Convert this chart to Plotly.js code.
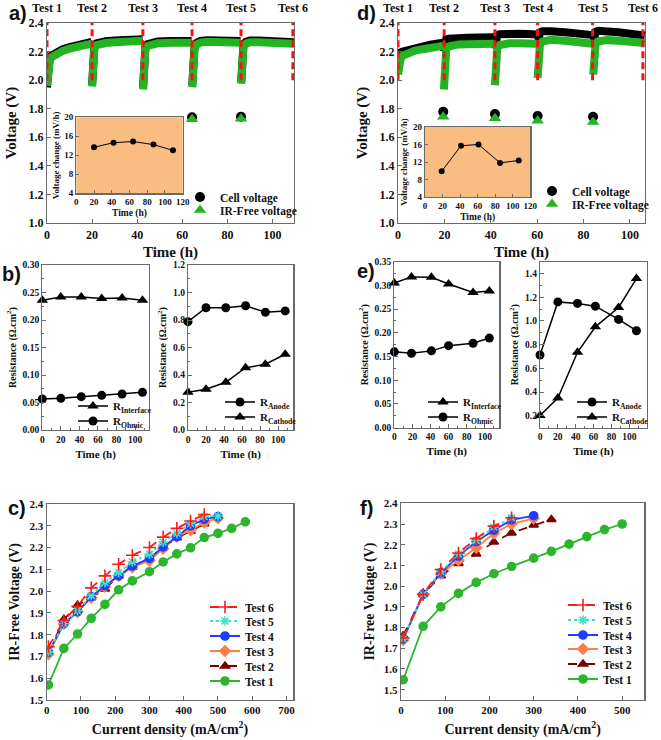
<!DOCTYPE html>
<html><head><meta charset="utf-8">
<script src="https://cdn.plot.ly/plotly-3.0.1.min.js"></script>
<style>html,body{margin:0;padding:0;background:#fff}#chart{width:661px;height:740px}</style>
</head><body><div id="chart"></div>
<script>
// ---------------- DATA ----------------
const testLabels = ['Test 1','Test 2','Test 3','Test 4','Test 5','Test 6'];
const aTestTimes = [0,20,42.5,64.3,86,109];
const dTestTimes = [0,19.9,41.8,60.2,83.9,105.6];
const dashLow = 2.0, dashHigh = 2.4;

// panel a: long-term voltage traces (segments separated by null)
const aTime = [0,0.2,0.6,1.2,2,4,7,10,13,16,19.8,null,
  20,20.15,20.5,21,22,23.5,26,30,35,40,42.4,null,
  42.6,42.75,43.1,43.6,44.6,46,49,55,60,64.1,null,
  64.4,64.55,64.9,65.4,66.4,68,71,76,81,85.8,null,
  86.1,86.25,86.6,87.1,88.1,90,94,100,105,109.4];
const aIRFree = [1.96,2.06,2.11,2.14,2.16,2.185,2.205,2.22,2.232,2.243,2.255,null,
  1.955,2.12,2.19,2.225,2.245,2.255,2.26,2.265,2.27,2.273,2.275,null,
  1.935,2.11,2.18,2.215,2.24,2.25,2.258,2.262,2.262,2.262,null,
  1.95,2.12,2.19,2.225,2.25,2.263,2.268,2.267,2.264,2.262,null,
  1.975,2.13,2.2,2.235,2.255,2.265,2.266,2.262,2.258,2.254];
const aCell = [1.95,2.075,2.122,2.152,2.172,2.197,2.217,2.232,2.244,2.255,2.267,null,
  1.97,2.135,2.202,2.237,2.257,2.267,2.272,2.277,2.282,2.285,2.287,null,
  1.95,2.122,2.192,2.227,2.252,2.262,2.27,2.274,2.274,2.274,null,
  1.965,2.132,2.202,2.237,2.262,2.275,2.28,2.279,2.276,2.274,null,
  1.99,2.142,2.212,2.247,2.267,2.277,2.278,2.274,2.27,2.266];
const aPointT = [64.3,86];
const aCellPt = [1.74,1.744];
const aIRPt = [1.727,1.73];

// panel d
const dTime = [0,0.2,0.6,1.2,2,4,7,10,14,19.4,null,
  19.8,19.95,20.3,20.8,21.8,23.3,26,30,35,41.5,null,
  41.8,41.95,42.3,42.8,43.8,45.3,48,52,56,60,null,
  60.2,60.35,60.7,61.2,62.2,63.7,66,72,78,84,null,
  84.2,84.35,84.7,85.2,86.2,87.7,90,95,100,106.4];
const dIRFree = [2.04,2.1,2.135,2.155,2.17,2.19,2.205,2.215,2.228,2.24,null,
  1.935,2.1,2.18,2.215,2.235,2.245,2.25,2.252,2.253,2.255,null,
  1.965,2.12,2.19,2.225,2.245,2.255,2.258,2.258,2.257,2.255,null,
  2.015,2.15,2.22,2.25,2.27,2.28,2.282,2.275,2.265,2.255,null,
  2.04,2.17,2.23,2.255,2.27,2.278,2.28,2.275,2.268,2.26];
const dCell = [2.165,2.18,2.19,2.195,2.2,2.21,2.225,2.235,2.248,2.262,null,
  2.2,2.24,2.27,2.285,2.29,2.293,2.295,2.297,2.298,2.3,null,
  2.22,2.27,2.3,2.315,2.322,2.325,2.325,2.325,2.323,2.32,null,
  2.24,2.29,2.32,2.335,2.342,2.345,2.343,2.335,2.325,2.315,null,
  2.25,2.3,2.325,2.338,2.345,2.345,2.343,2.335,2.325,2.312];
const dPointT = [19.5,41.8,60.2,84.1];
const dCellPt = [1.779,1.763,1.749,1.744];
const dIRPt = [1.744,1.733,1.716,1.707];

// insets: voltage change rate
const aInsetT = [20,42,64,87,109];
const aInsetV = [13.7,14.65,14.9,14.25,13.05];
const dInsetT = [19,41,61,85.5,106.8];
const dInsetV = [9.87,15.7,16.02,11.8,12.35];

// panel b
const bTime = [0,20,42,64,86,108];
const bInterface = [0.236,0.242,0.242,0.239,0.240,0.236];
const bOhmic = [0.0564,0.0576,0.0606,0.063,0.0655,0.0685];
const bTime2 = [0,20,42,64,86,108];
const bAnode = [0.788,0.889,0.889,0.904,0.856,0.866];
const bCathode = [0.274,0.296,0.347,0.453,0.478,0.551];

// panel e
const eTime = [0,19,41,60,87,105];
const eInterface = [0.305,0.318,0.317,0.303,0.285,0.288];
const eOhmic = [0.160,0.157,0.162,0.173,0.178,0.189];
const eTime2 = [0,20,42,62,88,108];
const eAnode = [0.713,1.161,1.148,1.125,1.013,0.918];
const eCathode = [0.203,0.35,0.736,0.951,1.114,1.358];

// panel c: polarization curves
const cJ = [5,50,90,130,170,210,250,300,340,380,420,460,500,540,580];
const cTest1 = [1.569,1.737,1.803,1.875,1.939,2.006,2.047,2.089,2.134,2.171,2.199,2.246,2.265,2.288,2.318];
const cTest2 = [1.715,1.87,1.935,1.97,2.01,2.07,2.11,2.15,2.2,2.245,2.275,2.31];
const cTest3 = [1.71,1.85,1.905,1.97,2.02,2.07,2.11,2.14,2.195,2.25,2.28,2.315,2.335];
const cTest4 = [1.72,1.85,1.905,1.975,2.025,2.07,2.115,2.15,2.203,2.25,2.3,2.33,2.342];
const cTest5 = [1.72,1.85,1.91,1.98,2.04,2.085,2.135,2.17,2.225,2.265,2.31,2.342,2.345];
const cTest6 = [1.745,1.865,1.93,2.015,2.07,2.123,2.165,2.2,2.248,2.288,2.322,2.352];

// panel f
const fJ = [5,50,90,130,170,210,250,300,340,380,420,460,500];
const fTest1 = [1.548,1.806,1.9,1.965,2.018,2.06,2.095,2.135,2.168,2.203,2.239,2.273,2.3];
const fTest2 = [1.76,1.96,2.05,2.11,2.155,2.213,2.257,2.295,2.322];
const fTest3 = [1.74,1.96,2.06,2.125,2.185,2.255,2.3,2.327];
const fTest4 = [1.745,1.96,2.065,2.145,2.215,2.27,2.32,2.34];
const fTest5 = [1.745,1.96,2.07,2.155,2.22,2.285,2.33];
const fTest6 = [1.75,1.96,2.08,2.16,2.23,2.29,2.33];

// ---------------- STYLE / LAYOUT ----------------
const W = 661, H = 740;
const SERIF = 'Liberation Serif, Times New Roman, serif';
const SANS = 'Liberation Sans, Arial, sans-serif';
const GREEN = '#22b422';
const fx = p => p / W;
const fy = p => 1 - p / H;
const dom = (a, b) => [fx(a), fx(b)];
const domY = (top, bot) => [fy(bot), fy(top)];

function ax(o) {
  const base = {showline:true, mirror:true, linecolor:'#6a6a6a', linewidth:1.2,
    ticks:'inside', ticklen:4, tickcolor:'#6a6a6a', tickwidth:1,
    showgrid:false, zeroline:false, fixedrange:true,
    tickfont:{family:SERIF, size:12, weight:700, color:'#111'}};
  return Object.assign(base, o);
}
function ttl(text, size, standoff) {
  return {text:text, font:{family:SERIF, size:size, weight:700, color:'#111'}, standoff:standoff};
}
const smallTick = {family:SERIF, size:9, weight:700, color:'#111'};
const resTick = {family:SERIF, size:9.5, weight:700, color:'#111'};
const polTick = {family:SERIF, size:11, weight:700, color:'#111'};
const layout = {
  width:W, height:H, margin:{l:0,r:0,t:0,b:0},
  paper_bgcolor:'#fff', plot_bgcolor:'rgba(0,0,0,0)',
  font:{family:SERIF, weight:700, color:'#111'},
  showlegend:true,
  // a
  xaxis: ax({domain:dom(47,294), anchor:'y', range:[0,109.5], dtick:20, title:ttl('Time (h)',15,6)}),
  yaxis: ax({domain:domY(23,223), anchor:'x', range:[1.0,2.4], dtick:0.2, tickformat:'.1f', title:ttl('Voltage (V)',15,8)}),
  // inset a
  xaxis2: ax({domain:dom(76.3,182.7), anchor:'y2', range:[0,120], dtick:20, ticklen:3, tickfont:smallTick, title:ttl('Time (h)',9.5,3)}),
  yaxis2: ax({domain:domY(117.3,193.3), anchor:'x2', range:[4,20], dtick:4, ticklen:3, tickfont:smallTick, title:ttl('Voltage change (mV/h)',9,3)}),
  // d
  xaxis3: ax({domain:dom(398,645), anchor:'y3', range:[0,106.5], dtick:20, title:ttl('Time (h)',15,6)}),
  yaxis3: ax({domain:domY(23,223), anchor:'x3', range:[1.0,2.4], dtick:0.2, tickformat:'.1f', title:ttl('Voltage (V)',15,8)}),
  // inset d
  xaxis4: ax({domain:dom(425,530.3), anchor:'y4', range:[0,120], dtick:20, ticklen:3, tickfont:smallTick, title:ttl('Time (h)',9.5,3)}),
  yaxis4: ax({domain:domY(127,197), anchor:'x4', range:[4,20], dtick:4, ticklen:3, tickfont:smallTick, title:ttl('Voltage change (mV/h)',9,3)}),
  // b left
  xaxis5: ax({domain:dom(42.3,149), anchor:'y5', range:[0,115], dtick:20, minor:{ticks:'inside',ticklen:2,dtick:10}, tickfont:resTick, title:ttl('Time (h)',11,6)}),
  yaxis5: ax({domain:domY(265,430), anchor:'x5', range:[0,0.3], dtick:0.05, tickformat:'.2f', minor:{ticks:'inside',ticklen:2,dtick:0.025}, tickfont:resTick, title:ttl('Resistance (Ω.cm<sup>2</sup>)',10,4)}),
  // b right
  xaxis6: ax({domain:dom(188,293.3), anchor:'y6', range:[0,117], dtick:20, minor:{ticks:'inside',ticklen:2,dtick:10}, tickfont:resTick, title:ttl('Time (h)',11,6)}),
  yaxis6: ax({domain:domY(265,430), anchor:'x6', range:[0,1.2], dtick:0.2, tickformat:'.1f', minor:{ticks:'inside',ticklen:2,dtick:0.1}, tickfont:resTick, title:ttl('Resistance (Ω.cm<sup>2</sup>)',10,4)}),
  // e left
  xaxis7: ax({domain:dom(394.3,499.3), anchor:'y7', range:[0,116], dtick:20, minor:{ticks:'inside',ticklen:2,dtick:10}, tickfont:resTick, title:ttl('Time (h)',11,6)}),
  yaxis7: ax({domain:domY(261.7,427.7), anchor:'x7', range:[0,0.35], dtick:0.05, tickformat:'.2f', minor:{ticks:'inside',ticklen:2,dtick:0.025}, tickfont:resTick, title:ttl('Resistance (Ω.cm<sup>2</sup>)',10,4)}),
  // e right
  xaxis8: ax({domain:dom(540,646.7), anchor:'y8', range:[0,119.5], dtick:20, minor:{ticks:'inside',ticklen:2,dtick:10}, tickfont:resTick, title:ttl('Time (h)',11,6)}),
  yaxis8: ax({domain:domY(261.7,427.7), anchor:'x8', range:[0.1,1.5], tick0:0, dtick:0.2, tickformat:'.1f', minor:{ticks:'inside',ticklen:2,dtick:0.1}, tickfont:resTick, title:ttl('Resistance (Ω.cm<sup>2</sup>)',10,4)}),
  // c
  xaxis9: ax({domain:dom(46.7,293.3), anchor:'y9', range:[0,720], dtick:100, tickfont:polTick, title:ttl('Current density (mA/cm<sup>2</sup>)',14,8)}),
  yaxis9: ax({domain:domY(504,700), anchor:'x9', range:[1.5,2.4], dtick:0.1, tickformat:'.1f', tickfont:polTick, title:ttl('IR-Free Voltage (V)',14,6)}),
  // f
  xaxis10: ax({domain:dom(401,644.3), anchor:'y10', range:[0,550], dtick:100, tickfont:polTick, title:ttl('Current density (mA/cm<sup>2</sup>)',14,8)}),
  yaxis10: ax({domain:domY(503.3,700), anchor:'x10', range:[1.45,2.4], dtick:0.1, tickformat:'.1f', tickfont:polTick, title:ttl('IR-Free Voltage (V)',14,6)}),
  shapes: [
    {type:'rect', xref:'x2 domain', yref:'y2 domain', x0:0, x1:1, y0:0, y1:1, fillcolor:'#f9bd82', line:{width:0}, layer:'below'},
    {type:'rect', xref:'x4 domain', yref:'y4 domain', x0:0, x1:1, y0:0, y1:1, fillcolor:'#f9bd82', line:{width:0}, layer:'below'}
  ],
  annotations: []
};

// panel letters
[['a)',7,13],['b)',0,274],['c)',6,508],['d)',355,13],['e)',355,271],['f)',358,508]].forEach(p => {
  layout.annotations.push({text:p[0], xref:'paper', yref:'paper', x:fx(p[1]), y:fy(p[2]), xanchor:'left', yanchor:'middle',
    showarrow:false, font:{family:SANS, size:20, weight:700, color:'#111'}});
});
// test labels
function testLabelAnn(times, xref) {
  times.forEach((t, i) => layout.annotations.push({text:testLabels[i], xref:xref, yref:'paper', x:t, y:fy(8),
    xanchor:'center', yanchor:'middle', showarrow:false, font:{family:SERIF, size:12, weight:700, color:'#111'}}));
}
testLabelAnn(aTestTimes, 'x');
testLabelAnn(dTestTimes, 'x3');

// legends: one legend per entry so that rows sit where the reference has them
let legIdx = 0;
function newLegend(leftX, centerY, size) {
  legIdx += 1;
  const key = legIdx === 1 ? 'legend' : 'legend' + legIdx;
  layout[key] = {x:fx(leftX), y:fy(centerY), xanchor:'left', yanchor:'middle', bgcolor:'rgba(0,0,0,0)',
    borderwidth:0, font:{family:SERIF, size:size, weight:700, color:'#111'}, itemclick:false, itemdoubleclick:false};
  return key;
}

const traces = [];
function dashedTests(times, xa, ya) {
  const xs = [], ys = [];
  times.forEach(t => { xs.push(t, t, null); ys.push(dashLow, dashHigh, null); });
  traces.push({x:xs, y:ys, xaxis:xa, yaxis:ya, mode:'lines', line:{color:'#ff1010', width:3, dash:'7px,4px'}, showlegend:false, hoverinfo:'skip'});
}
function voltagePanel(t, cell, ir, pt, cellPt, irPt, xa, ya, times, legCell, legIR) {
  traces.push({x:t, y:cell, xaxis:xa, yaxis:ya, mode:'lines', line:{color:'#000', width:8}, connectgaps:false, showlegend:false});
  traces.push({x:t, y:ir, xaxis:xa, yaxis:ya, mode:'lines', line:{color:GREEN, width:8}, connectgaps:false, showlegend:false});
  dashedTests(times, xa, ya);
  traces.push({x:pt, y:cellPt, xaxis:xa, yaxis:ya, mode:'markers', name:'Cell voltage', legend:legCell,
    marker:{symbol:'circle', size:10, color:'#000'}});
  traces.push({x:pt, y:irPt, xaxis:xa, yaxis:ya, mode:'markers', name:'IR-Free voltage', legend:legIR,
    marker:{symbol:'triangle-up', size:11, color:GREEN}});
}
voltagePanel(aTime, aCell, aIRFree, aPointT, aCellPt, aIRPt, 'x', 'y', aTestTimes,
  newLegend(180,197,11.5), newLegend(180,210,11.5));
voltagePanel(dTime, dCell, dIRFree, dPointT, dCellPt, dIRPt, 'x3', 'y3', dTestTimes,
  newLegend(532,191,11.5), newLegend(532,204,11.5));

// insets
traces.push({x:aInsetT, y:aInsetV, xaxis:'x2', yaxis:'y2', mode:'lines+markers', line:{color:'#000', width:1}, marker:{size:6, color:'#000'}, showlegend:false});
traces.push({x:dInsetT, y:dInsetV, xaxis:'x4', yaxis:'y4', mode:'lines+markers', line:{color:'#000', width:1}, marker:{size:6, color:'#000'}, showlegend:false});

// resistance panels
function resTrace(x, y, xa, ya, sym, name, leg) {
  traces.push({x:x, y:y, xaxis:xa, yaxis:ya, mode:'lines+markers', name:name, legend:leg,
    line:{color:'#000', width:1.5}, marker:{symbol:sym, size:sym === 'circle' ? 9 : 10, color:'#000'}, cliponaxis:false});
}
resTrace(bTime, bInterface, 'x5', 'y5', 'triangle-up', 'R<sub>Interface</sub>', newLegend(73,406,11));
resTrace(bTime, bOhmic, 'x5', 'y5', 'circle', 'R<sub>Ohmic</sub>', newLegend(73,421,11));
resTrace(bTime2, bAnode, 'x6', 'y6', 'circle', 'R<sub>Anode</sub>', newLegend(220,402,11));
resTrace(bTime2, bCathode, 'x6', 'y6', 'triangle-up', 'R<sub>Cathode</sub>', newLegend(220,417,11));
resTrace(eTime, eInterface, 'x7', 'y7', 'triangle-up', 'R<sub>Interface</sub>', newLegend(423,402,11));
resTrace(eTime, eOhmic, 'x7', 'y7', 'circle', 'R<sub>Ohmic</sub>', newLegend(423,417,11));
resTrace(eTime2, eAnode, 'x8', 'y8', 'circle', 'R<sub>Anode</sub>', newLegend(572,402,11));
resTrace(eTime2, eCathode, 'x8', 'y8', 'triangle-up', 'R<sub>Cathode</sub>', newLegend(572,417,11));

// polarization panels
const testStyles = [
  {name:'Test 1', color:'#2db52d', sym:'circle', size:8, dash:'solid'},
  {name:'Test 2', color:'#7a0000', sym:'triangle-up', size:8, dash:'dash'},
  {name:'Test 3', color:'#ff7f45', sym:'diamond', size:8, dash:'solid'},
  {name:'Test 4', color:'#1f3cff', sym:'circle', size:8, dash:'solid'},
  {name:'Test 5', color:'#40e0c8', sym:'asterisk-open', size:8, dash:'dot'},
  {name:'Test 6', color:'#ff1a1a', sym:'cross-thin-open', size:9, dash:'dash'}
];
function polPanel(J, series, xa, ya, leftX, centersY) {
  series.forEach((s, i) => {
    const st = testStyles[i];
    traces.push({x:J.slice(0, s.length), y:s, xaxis:xa, yaxis:ya, mode:'lines+markers', name:st.name,
      legend:newLegend(leftX, centersY[i], 11.5),
      line:{color:st.color, width:1.8, dash:st.dash},
      marker:{symbol:st.sym, size:st.size, color:st.color, line:{color:st.color, width:1.6}}});
  });
}
polPanel(cJ, [cTest1,cTest2,cTest3,cTest4,cTest5,cTest6], 'x9', 'y9', 205, [681,666,651,636,621,607]);
polPanel(fJ, [fTest1,fTest2,fTest3,fTest4,fTest5,fTest6], 'x10', 'y10', 563, [679,664,649,635,620,605]);

Plotly.newPlot('chart', traces, layout, {staticPlot:true, displayModeBar:false});
</script></body></html>
